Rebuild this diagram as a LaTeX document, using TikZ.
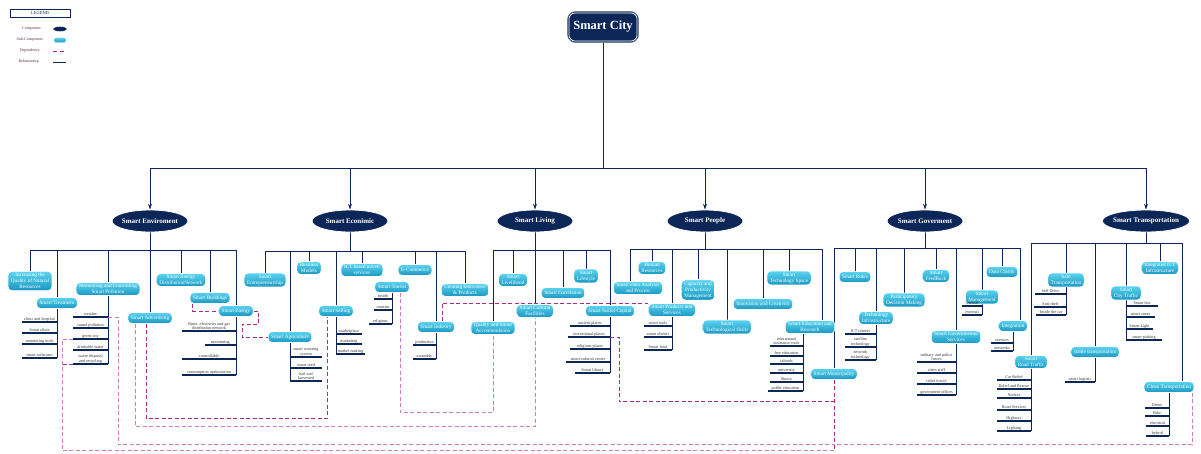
\documentclass[tikz,border=0pt]{standalone}
\usepackage{fontspec}
\setmainfont{Liberation Serif}
\usetikzlibrary{positioning,calc,shapes.geometric,arrows.meta,backgrounds}
\definecolor{navy}{HTML}{0C2658}
\definecolor{skytop}{HTML}{5CD4F0}
\definecolor{skybot}{HTML}{1897C2}
\definecolor{depdark}{HTML}{A92A88}
\definecolor{deplight}{HTML}{D27BC4}
\definecolor{legtxt}{HTML}{5B2342}
\tikzset{compnode/.style={ellipse, draw=white, line width=0.8pt, fill=navy, text=white, font=\bfseries\fontsize{7}{8}\selectfont, minimum width=76pt, minimum height=22pt, inner xsep=-2pt, inner ysep=0pt}}
\tikzset{subnode/.style={rounded corners=4, draw=white, line width=0.7pt, top color=skytop, bottom color=skybot, text=white, font=\fontsize{5.2}{6.2}\selectfont, align=center, inner xsep=3pt, inner ysep=1.6pt, minimum height=11pt}}
\tikzset{leafnode/.style={font=\fontsize{4.2}{4.6}\selectfont, text=black!80, align=center, inner sep=0.3pt}}
\tikzset{legnode/.style={font=\fontsize{4}{4.5}\selectfont, text=legtxt, inner sep=0pt}}
\tikzset{rel/.style={draw=navy, line width=0.8pt}}
\tikzset{bar/.style={draw=navy, line width=2.4pt}}
\tikzset{dep/.style={draw=depdark, line width=0.8pt, dash pattern=on 4pt off 2.5pt}}
\tikzset{depl/.style={dep, draw=deplight}}
% leaf: name, left x, right x, y, text
\newcommand{\leafbar}[5]{%
  \draw[bar] (#2,#4) coordinate (#1-l) -- (#3,#4) coordinate (#1-r);
  \node[leafnode, above=0.6pt] (#1) at ({(#2+#3)/2},#4) {#5};}

\begin{document}
\begin{tikzpicture}[x=1pt, y=-1pt]
\useasboundingbox (0,0) rectangle (1201,453);
\clip (0,0) rectangle (1201,453);
%
\node[draw=navy, line width=0.6pt, minimum width=60pt, minimum height=8pt, inner sep=0pt, font=\fontsize{4.5}{5}\selectfont, text=navy] (leg) at (40,13) {LEGEND};
\node[legnode, anchor=east] (lcomp) at (41,29) {Component};
\node[legnode, anchor=east] (lsub) at (43,40) {Sub-Component};
\node[legnode, anchor=east] (ldep) at (40,51) {Dependency};
\node[legnode, anchor=east] (lrel) at (39,62) {Relationship};
\node[compnode, minimum width=14pt, minimum height=5pt, line width=0.3pt] (icomp) at (60,29) {};
\node[subnode, minimum width=12pt, minimum height=5pt, inner sep=0pt, rounded corners=1.5, line width=0.3pt] (isub) at (60,40) {};
\draw[dep] (53,51) -- (66,51);
\draw[rel] (53,62) -- (66,62);
%
\node[rounded corners=8, fill=navy, draw=navy!60, line width=0.6pt, text=white, font=\bfseries\fontsize{12.5}{14}\selectfont, minimum width=71pt, minimum height=31pt] (city) at (603,27) {Smart City};
\draw[white, line width=0.7pt, rounded corners=6] ($(city.south west)+(1.8,-1.8)$) rectangle ($(city.north east)+(-1.8,1.8)$);
%
\node[compnode] (env) at (150,221) {Smart Enviroment};
\node[compnode] (eco) at (350,221) {Smart Econimic};
\node[compnode] (liv) at (535,221) {Smart Living};
\node[compnode] (peo) at (705,221) {Smart People};
\node[compnode] (gvt) at (925,221) {Smart Goverment};
\node[compnode] (trn) at (1146,221) {Smart Transportation};
%
\node[subnode] (inc) at (30,281) {Increasing the\\Quality of Natural\\Resources};
\node[subnode] (tre) at (57,303) {Smart Treatment};
\node[subnode] (pol) at (108,289) {Monitoring and Controlling\\Smart Pollution};
\node[subnode] (adv) at (150,318) {Smart Advertising};
\node[subnode] (edn) at (181,280) {Smart Energy\\DistributionNetwork};
\node[subnode] (bld) at (210,298) {Smart Buildings};
\node[subnode] (eng) at (236,311) {Smart Energy};
\leafbar{cli}{22}{57}{322}{clinic and hospital}
\leafbar{scl}{22}{57}{333}{Smart clinic}
\leafbar{mon}{22}{57}{344}{monitoring tools}
\leafbar{sof}{22}{57}{358}{smart softwares}
\leafbar{wea}{73}{108}{317}{weather}
\leafbar{snd}{73}{108}{328}{sound pollution}
\leafbar{grn}{73}{108}{339}{green city}
\leafbar{dri}{73}{108}{350}{drinkable water}
\leafbar{was}{73}{108}{364}{waste disposal\\and recycling}
\leafbar{wat}{182}{236}{331}{Water, electricity and gas\\distribution network}
\leafbar{emo}{205}{236}{345}{monitoring}
\leafbar{ctl}{182}{236}{359}{controllable}
\leafbar{opt}{182}{236}{375}{consumption optimization}
%
\node[subnode] (ent) at (265,280) {Smart\\Entrepreneurship};
\node[subnode] (agr) at (290,337) {Smart Agriculture};
\node[subnode] (bmo) at (309,268) {Business\\Models};
\node[subnode] (sel) at (336,311) {Smart Selling};
\node[subnode] (ict) at (362,270) {ICT based novell\\services};
\node[subnode] (tou) at (392,287) {Smart Tourist};
\node[subnode] (ecm) at (415,270) {E-Commerce};
\node[subnode] (ind) at (436,327) {Smart Industry};
\node[subnode] (cre) at (465,290) {Creating Innovative\\\& Products};
\leafbar{wtr}{290}{322}{357}{smart watering\\system}
\leafbar{sed}{290}{322}{368}{smart seed}
\leafbar{hai}{290}{322}{381}{hail and\\harvested}
\leafbar{mkp}{336}{362}{334}{marketplace}
\leafbar{mkt}{336}{362}{344}{marketing}
\leafbar{mkm}{336}{365}{354}{market making}
\leafbar{hea}{374}{392}{299}{health}
\leafbar{tsm}{374}{392}{310}{tourism}
\leafbar{rlg}{369}{392}{324}{religious}
\leafbar{pro}{413}{436}{345}{production}
\leafbar{asm}{413}{436}{359}{assembly}
%
\node[subnode] (qua) at (493,328) {Quality and Smart\\Accommodation};
\node[subnode] (lvh) at (513,280) {Smart\\Livelihood};
\node[subnode] (cul) at (535,311) {Smart Cultural\\Facilities};
\node[subnode] (cor) at (563,293) {Smart Correlation};
\node[subnode] (lst) at (586,276) {Smart\\Lifestyle};
\node[subnode] (soc) at (610,311) {Smart Social Capital};
\leafbar{anc}{570}{610}{326}{ancient places}
\leafbar{rec}{568}{610}{337}{recreational places}
\leafbar{rlp}{570}{610}{349}{religious places}
\leafbar{scc}{566}{610}{362}{smart cultural center}
\leafbar{lib}{575}{610}{373}{Smart library}
%
\node[subnode] (dat) at (638,288) {Smart Data Analysis\\and Process};
\node[subnode] (hum) at (652,268) {Human\\Resources};
\node[subnode] (prd) at (672,310) {Smart Products and\\Services};
\node[subnode] (cap) at (698,290) {Capacity and\\Productivity\\Management};
\node[subnode] (tsk) at (727,327) {Smart\\Technological Skills};
\node[subnode] (inn) at (763,304) {Innovation and Creativity};
\node[subnode] (tsp) at (789,278) {Smart\\Technology Space};
\node[subnode] (edu) at (810,327) {Smart Education and\\Research};
\leafbar{stl}{644}{672}{326}{smart tools}
\leafbar{clo}{644}{672}{337}{smart clothes}
\leafbar{fod}{644}{672}{350}{Smart food}
\leafbar{eat}{770}{803}{346}{educational\\assistance tools}
\leafbar{fre}{770}{803}{356}{free education}
\leafbar{sch}{770}{803}{364}{schools}
\leafbar{uni}{770}{803}{373}{university}
\leafbar{lbr}{770}{803}{382}{library}
\leafbar{pub}{768}{803}{391}{public education}
%
\node[subnode] (mun) at (834,374) {Smart Municipality};
\node[subnode] (rul) at (855,277) {Smart Rules};
\node[subnode] (tin) at (876,318) {Technology\\Infrastructure};
\node[subnode] (par) at (904,300) {Participatory\\Decision Making};
\node[subnode] (fbk) at (936,276) {Smart\\FeedBack};
\node[subnode] (gsv) at (956,337) {Smart Governmental\\Services};
\node[subnode] (mgt) at (982,297) {Smart\\Management};
\node[subnode] (clr) at (1002,272) {Data Clarity};
\node[subnode] (itg) at (1013,326) {Integration};
\leafbar{icc}{845}{876}{334}{ICT centers}
\leafbar{sat}{845}{876}{347}{satellite\\technology}
\leafbar{net}{845}{876}{360}{network\\technology}
\leafbar{mil}{917}{956}{362}{military and police\\forces}
\leafbar{cst}{917}{956}{373}{cities staff}
\leafbar{rlf}{917}{956}{384}{relief forces}
\leafbar{gof}{917}{956}{395}{government offices}
\leafbar{itn}{962}{982}{306}{internal}
\leafbar{ext}{962}{982}{315}{external}
\leafbar{isv}{991}{1013}{343}{services}
\leafbar{inw}{991}{1013}{351}{networks}
%
\node[subnode] (rtr) at (1031,362) {Smart\\Road Traffic};
\node[subnode] (saf) at (1066,280) {Safe\\Transportation};
\node[subnode] (stb) at (1095,352) {stable transportation};
\node[subnode] (ctr) at (1126,293) {Smart\\City Traffic};
\node[subnode] (iic) at (1160,268) {Integrated ICT\\Infrastructure};
\node[subnode] (cln) at (1169,387) {Clean Transportation};
\leafbar{crl}{997}{1031}{380}{Car Relief}
\leafbar{rar}{997}{1031}{389}{Relief and Rescue}
\leafbar{ntc}{997}{1031}{398}{Notices}
\leafbar{rds}{997}{1031}{410}{Road Services}
\leafbar{hwy}{997}{1031}{421}{Highway}
\leafbar{lgt}{997}{1031}{431}{Lighting}
\leafbar{sdr}{1035}{1066}{294}{Self Drive}
\leafbar{ath}{1034}{1066}{307}{Anti-theft}
\leafbar{icr}{1036}{1066}{315}{Inside the car}
\leafbar{slg}{1065}{1095}{382}{smart logistic}
\leafbar{sbs}{1126}{1158}{306}{Smart bus}
\leafbar{sst}{1126}{1155}{317}{smart street}
\leafbar{slt}{1126}{1153}{329}{Smart Light}
\leafbar{spk}{1126}{1162}{340}{smart parking}
\leafbar{drn}{1145}{1169}{408}{Drone}
\leafbar{bik}{1145}{1169}{416}{Bike}
\leafbar{elc}{1146}{1169}{426}{electrical}
\leafbar{hyb}{1146}{1169}{436}{hybrid}
%
\begin{scope}[on background layer]
\clip (0,0) rectangle (1201,453);
\coordinate (hub) at (603,168);
\draw[rel] (city) -- (hub);
\foreach \c in {env,eco,liv,peo,gvt,trn}
  \draw[rel, -{Stealth[length=6pt,width=4pt]}] (hub) -| (\c);
% buses
\draw[rel] (env) -- (env |- 0,250);
\draw[rel] (inc |- 0,250) -- (eng |- 0,250);
\draw[rel] (eco) -- (eco |- 0,251);
\draw[rel] (ent |- 0,251) -- (cre |- 0,251);
\draw[rel] (liv) -- (liv |- 0,250);
\draw[rel] (qua |- 0,250) -- (soc |- 0,250);
\draw[rel] (peo) -- (peo |- 0,249);
\draw[rel] (630,249) -- (822,249);
\draw[rel] (gvt) -- (gvt |- 0,248);
\draw[rel] (mun |- 0,248) -- (1020,248);
\draw[rel] (trn) -- (trn |- 0,243);
\draw[rel] (rtr |- 0,243) -- (1182,243);
\foreach \s in {inc,tre,pol,adv,edn,bld,eng} \draw[rel] (\s) -- (\s |- 0,250);
\foreach \s in {ent,agr,bmo,sel,ict,ecm,ind,cre} \draw[rel] (\s) -- (\s |- 0,251);
\foreach \s in {qua,lvh,cul,cor,lst,soc} \draw[rel] (\s) -- (\s |- 0,250);
\foreach \s in {hum,prd,cap,tsk,inn,tsp} \draw[rel] (\s) -- (\s |- 0,249);
\foreach \s in {mun,rul,tin,par,fbk,gsv,mgt,clr} \draw[rel] (\s) -- (\s |- 0,248);
\foreach \s in {rtr,saf,stb,ctr,iic} \draw[rel] (\s) -- (\s |- 0,243);
\draw[rel] (dat.north -| 630,0) -- (630,249);
\draw[rel] (edu.north -| 822,0) -- (822,249);
\draw[rel] (itg.north -| 1020,0) -- (1020,248);
\draw[rel] (cln.north -| 1182,0) -- (1182,243);
% spines
\draw[rel] (tre) -- (sof-r);
\draw[rel] (pol) -- (was-r);
\draw[rel] (eng) -- (opt-r);
\draw[rel] (agr) -- (hai-l);
\draw[rel] (sel) -- (mkm-l);
\draw[rel] (tou) -- (rlg-r);
\draw[rel] (ind) -- (asm-r);
\draw[rel] (soc) -- (lib-r);
\draw[rel] (prd) -- (fod-r);
\draw[rel] (edu.south -| pub-r) -- (pub-r);
\draw[rel] (tin) -- (net-r);
\draw[rel] (gsv) -- (gof-r);
\draw[rel] (mgt) -- (ext-r);
\draw[rel] (itg) -- (inw-r);
\draw[rel] (rtr) -- (lgt-r);
\draw[rel] (saf) -- (icr-r);
\draw[rel] (stb) -- (slg-r);
\draw[rel] (ctr) -- (spk-l);
\draw[rel] (cln) -- (hyb-r);
% dependencies
\draw[dep] ($(bld.south west)+(3,0)$) |- (eng.west);
\draw[dep] (eng.east) -- ++(5,0) |- (242,324) |- (agr.west);
\draw[dep] ($(adv.south)+(-4,0)$) -- ++(0,95) -| ($(sel.south)+(-9,0)$);
\draw[depl] ($(adv.south)+(-15,0)$) -- ++(0,103) -| (cul.south);
\draw[depl] ($(tou.south)+(8,0)$) -- ++(0,120) -| (qua.south);
\draw[dep] ($(ind.north)+(6,0)$) |- ($(prd.west)+(0,-7)$);
\draw[depl] (wea-r) -- ++(10,0) |- ($(mun.south)+(0,65)$);
\draw[depl] (grn-l) -- ++(-11,0) |- ($(mun.south)+(0,71)$);
\draw[dep] (was-l) -- ++(-11,0);
\draw[dep] (rec-r) -- ++(9,0) |- ($(mun.south)+(0,22)$);
\draw[dep] (mun.south) -- ++(0,71);
\draw[depl] ($(cln.south east)+(-2,0)$) |- ($(mun.south)+(0,65)$);
\end{scope}
\end{tikzpicture}
\end{document}
